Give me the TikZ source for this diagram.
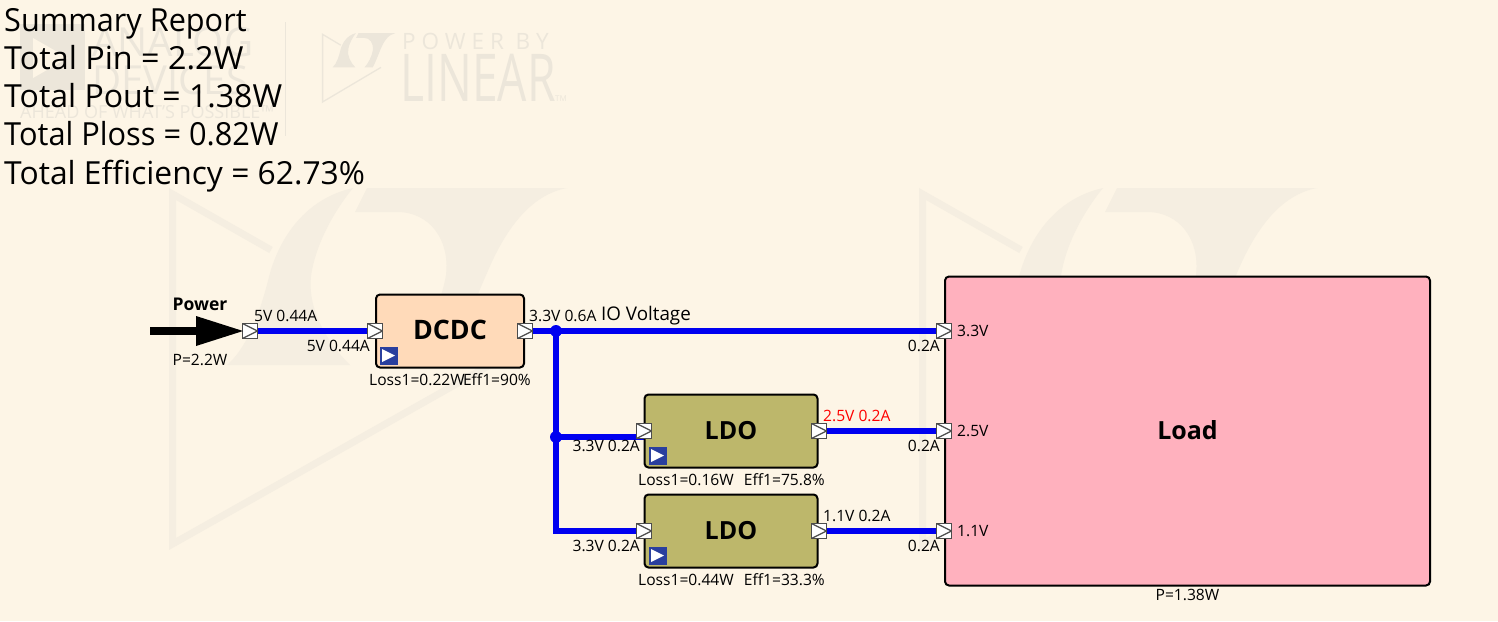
\documentclass[tikz,border=0pt]{standalone}
\usepackage{fontspec}
\setmainfont{Open Sans}
\definecolor{bgc}{HTML}{FDF5E6}
\definecolor{wm}{HTML}{F5EEE1}
\definecolor{wmt}{HTML}{ECE6DA}
\definecolor{wire}{HTML}{0000F0}
\definecolor{dcdc}{HTML}{FFDAB9}
\definecolor{ldo}{HTML}{BDB76B}
\definecolor{loadc}{HTML}{FFB1BE}
\definecolor{playc}{HTML}{2A3F9E}
\pgfdeclarelayer{backlayer}
\pgfdeclarelayer{wirelayer}
\pgfsetlayers{backlayer,wirelayer,main}
\newcommand{\ltlogo}[2]{%
 \draw[#1,line width=#2,line cap=butt,line join=miter] (271,250)--(172.5,194)--(172.5,544)--(490,365);
 \fill[#1] (353,188)..controls (300,200) and (278,245)..(270,273)..controls (262,305) and (250,345)..(227,365)--(350,365)..controls (325,340) and (305,305)..(312,270)..controls (318,240) and (335,210)..(353,188)--cycle;
 \fill[#1] (367,188)--(567,188)..controls (530,195) and (505,230)..(487,273)..controls (475,300) and (462,335)..(445,365)--(400,365)..controls (420,345) and (440,310)..(446,275)..controls (450,240) and (430,212)..(397,212)--(355,212)--cycle;
}
\tikzset{
 x=1pt,y=-1pt,
 lbl/.style={inner sep=0pt,font=\fontsize{15.6}{15.6}\selectfont},
 blk/.style={draw=black,line width=2pt,rounded corners=4pt,inner sep=0pt,font=\fontsize{25}{25}\selectfont\bfseries},
 wireline/.style={draw=wire,line width=6pt},
 dotc/.style={circle,fill=wire,inner sep=0pt,minimum size=12pt},
 pin/.style={draw=black!70,fill=white,line width=1.4pt,minimum size=15pt,inner sep=0pt,
   path picture={\draw[black!70,line width=1.2pt] (path picture bounding box.north west)--(path picture bounding box.east)--(path picture bounding box.south west);}},
 play/.style={fill=playc,minimum size=18pt,inner sep=0pt,
   path picture={\fill[white] ([xshift=2.5pt,yshift=-2.5pt]path picture bounding box.north west)--([xshift=-2.5pt]path picture bounding box.east)--([xshift=2.5pt,yshift=2.5pt]path picture bounding box.south west)--cycle;}},
 sumtxt/.style={inner sep=0pt,anchor=base west,font=\fontsize{31.8}{32}\selectfont},
 wmtxt/.style={inner sep=0pt,text=wmt,anchor=west},
}
\begin{document}
\begin{tikzpicture}
\useasboundingbox (0,0) rectangle (1498,621);
\begin{pgfonlayer}{backlayer}
\fill[bgc] (0,0) rectangle (1498,621);
% big watermarks
\ltlogo{wm}{7pt}
\begin{scope}[xshift=750pt]
\ltlogo{wm}{7pt}
\end{scope}
% ADI logo
\fill[wmt] (20,24) rectangle (85,90);
\fill[bgc] (33,38)--(33,78)--(68,58)--cycle;
\node[wmtxt,font=\fontsize{40}{40}\selectfont] (wa) at (92,42) {ANALOG};
\node[wmtxt,font=\fontsize{40}{40}\selectfont] (wd) at (92,80) {DEVICES};
\node[wmtxt,font=\fontsize{18}{18}\selectfont] (wp) at (20,112) {AHEAD OF WHAT'S POSSIBLE™};
\draw[wmt,line width=1pt] (285,22)--(285,136);
% Linear logo
\begin{scope}[shift={(322-169/5.44,33-187/5.18)},xscale=1/5.44,yscale=1/5.18]
\ltlogo{wmt}{1.3pt}
\end{scope}
\node[wmtxt,font=\fontsize{22.5}{22.5}\selectfont] (wl) at (402,41) {P O W E R\ \ B Y};
\node[wmtxt,font=\fontsize{66}{66}\selectfont,xscale=.7,anchor=center] (wr) at (478,78) {LINEAR};
\node[wmtxt,font=\fontsize{8}{8}\selectfont] (wtm) at (555,99) {TM};
\end{pgfonlayer}
% Summary
\node[sumtxt,xscale=.964] (s1) at (4,31) {Summary Report};
\node[sumtxt,xscale=1.017] (s2) at (4,69.3) {Total Pin = 2.2W};
\node[sumtxt,xscale=1.007] (s3) at (4,107.5) {Total Pout = 1.38W};
\node[sumtxt,xscale=.967] (s4) at (4,145.8) {Total Ploss = 0.82W};
\node[sumtxt] (s5) at (4,184) {Total Efficiency = 62.73\%};
% Blocks
\node[blk,fill=dcdc,minimum width=148pt,minimum height=73pt,font=\fontsize{26.8}{27}\selectfont\bfseries] (dc) at (450,331) {\raisebox{2pt}{DCDC}};
\node[blk,fill=ldo,minimum width=173pt,minimum height=73pt] (l1) at (731,431) {\raisebox{2pt}{LDO}};
\node[blk,fill=ldo,minimum width=173pt,minimum height=73pt] (l2) at (731,531) {\raisebox{2pt}{LDO}};
\node[blk,fill=loadc,minimum width=485pt,minimum height=309pt] (load) at (1187.5,431) {\raisebox{2pt}{Load}};
% Pins
\node[pin] (p0) at (250,331) {};
\node[pin] (dci) at (375,331) {};
\node[pin] (dco) at (525,331) {};
\node[pin] (l1i) at (644,431) {};
\node[pin] (l1o) at (819,431) {};
\node[pin] (l2i) at (644,531) {};
\node[pin] (l2o) at (819,531) {};
\node[pin] (la) at (944,331) {};
\node[pin] (lb) at (944,431) {};
\node[pin] (lc) at (944,531) {};
\coordinate (ja) at (556,331);
\coordinate (jb) at (556,437);
\coordinate (jc) at (556,531);
% wires
\begin{pgfonlayer}{wirelayer}
\draw[wireline] (p0)--(dci);
\draw[wireline] (dco)--(la);
\draw[wireline] (l1o)--(lb);
\draw[wireline] (l2o)--(lc);
\draw[wireline] (ja)--(jc)--(l2i);
\node[dotc] (dota) at (ja) {};
\node[dotc] (dotb) at (jb) {};
\draw[wireline] (dotb.center)--(dotb.center -| l1i);
\end{pgfonlayer}
% Power arrow
\fill[black] (150,327) rectangle (197,335);
\fill[black] (196,316)--(243,331)--(196,346)--cycle;
\node[lbl,font=\fontsize{17.5}{17.5}\selectfont\bfseries] (pw) at (200,304) {Power};
\node[lbl] (pp) at (200,360) {P=2.2W};
% Play icons
\node[play] (pl0) at (388.5,355.5) {};
\node[play] (pl1) at (657.5,455.5) {};
\node[play] (pl2) at (657.5,555.5) {};
% labels
\node[lbl,anchor=west] (t1) at (254,316) {5V 0.44A};
\node[lbl,anchor=east] (t2) at (370,346) {5V 0.44A};
\node[lbl,anchor=west] (t3) at (529,316) {3.3V 0.6A};
\node[lbl,anchor=west,font=\fontsize{18.8}{19}\selectfont] (t4) at (601,315.5) {IO Voltage};
\node[lbl,anchor=west] (t5) at (369,380) {Loss1=0.22W};
\node[lbl,anchor=east] (t6) at (531,380) {Eff1=90\%};
\node[lbl,anchor=east] (t7) at (640,446) {3.3V 0.2A};
\node[lbl,anchor=east] (t8) at (640,546) {3.3V 0.2A};
\node[lbl,anchor=west,text=red] (t9) at (823,416) {2.5V 0.2A};
\node[lbl,anchor=west] (t10) at (823,516) {1.1V 0.2A};
\node[lbl,anchor=west] (t11) at (638,480) {Loss1=0.16W};
\node[lbl,anchor=east] (t12) at (825,480) {Eff1=75.8\%};
\node[lbl,anchor=west] (t13) at (638,580) {Loss1=0.44W};
\node[lbl,anchor=east] (t14) at (825,580) {Eff1=33.3\%};
\node[lbl,anchor=east] (t15) at (940,346) {0.2A};
\node[lbl,anchor=east] (t16) at (940,446) {0.2A};
\node[lbl,anchor=east] (t17) at (940,546) {0.2A};
\node[lbl,anchor=west] (t18) at (957,331) {3.3V};
\node[lbl,anchor=west] (t19) at (957,431) {2.5V};
\node[lbl,anchor=west] (t20) at (957,531) {1.1V};
\node[lbl] (t21) at (1187.5,595) {P=1.38W};
\end{tikzpicture}
\end{document}
